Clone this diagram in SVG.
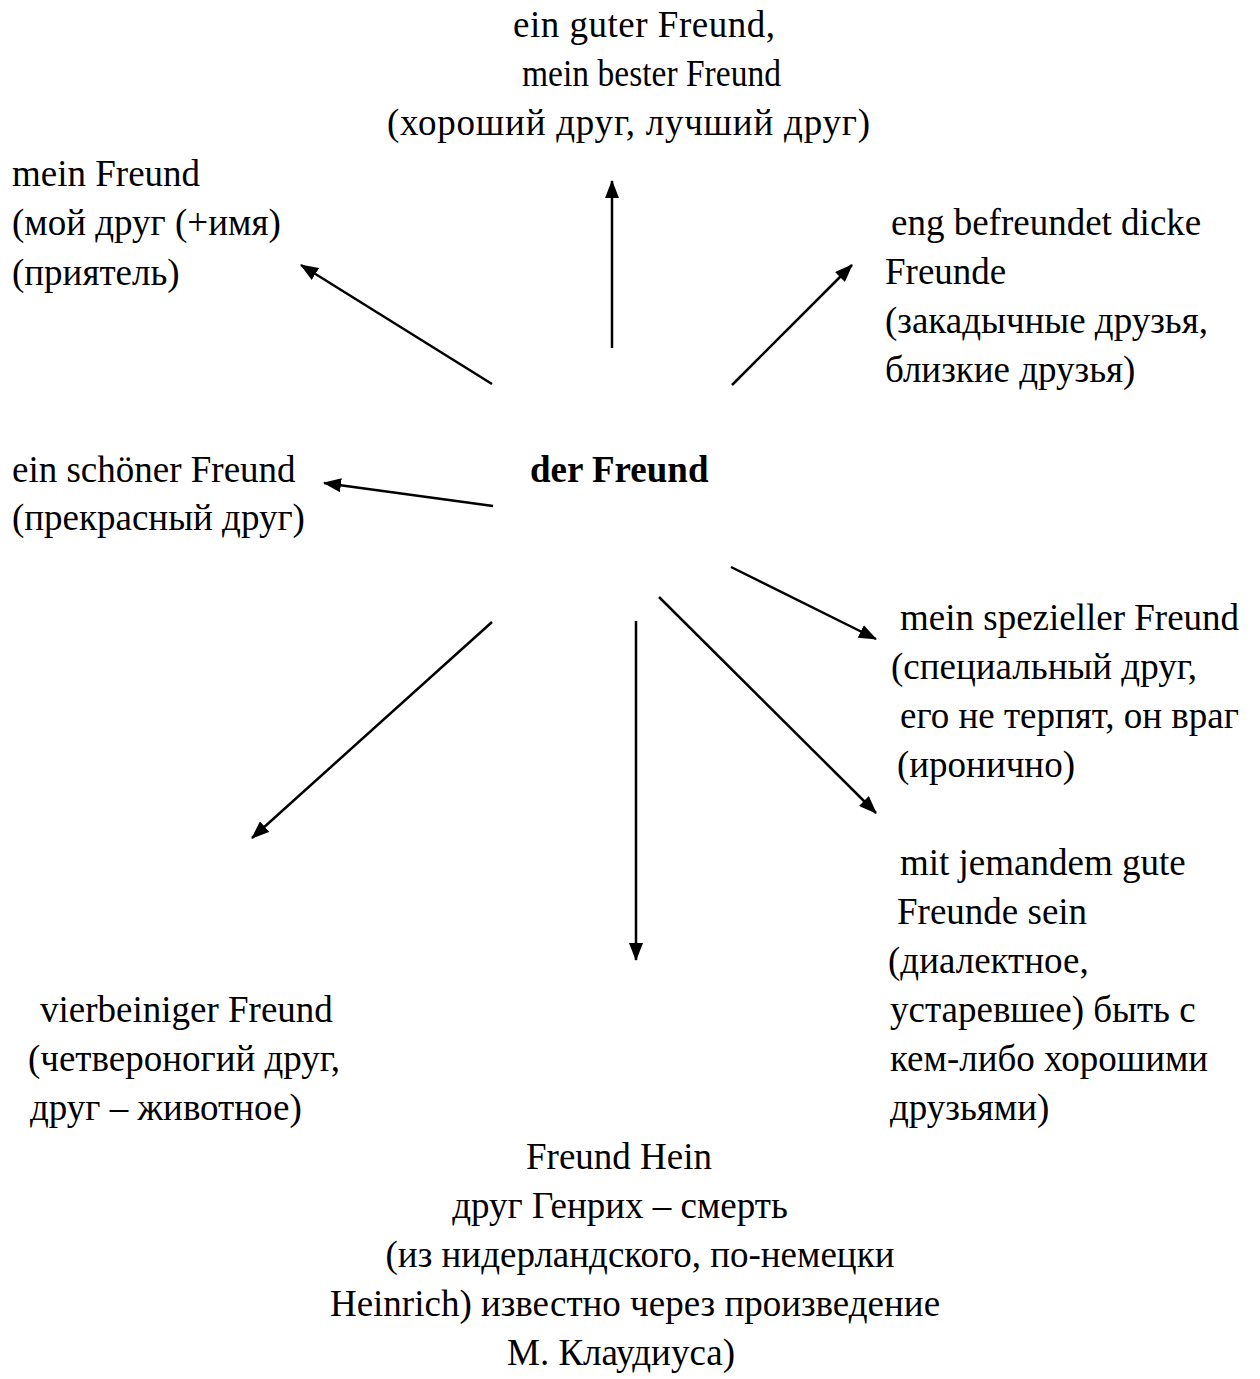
<svg xmlns="http://www.w3.org/2000/svg" width="1260" height="1379" viewBox="0 0 1260 1379">
<style>
text{font-family:"Liberation Serif","Times New Roman",serif;font-size:37px;fill:#000}
.b{font-weight:bold}
.m{text-anchor:middle}
.c line{stroke:#000;stroke-width:2.5;marker-end:url(#ah)}
</style>
<defs>
<marker id="ah" markerUnits="userSpaceOnUse" markerWidth="18" markerHeight="14" refX="17" refY="7" orient="auto">
<path d="M0,0 L18,7 L0,14 z" fill="#000"/>
</marker>
</defs>
<rect width="1260" height="1379" fill="#fff"/>
<g id="connectors" class="c">
<line x1="492" y1="384" x2="301" y2="265"/>
<line x1="612" y1="348" x2="612" y2="181"/>
<line x1="732" y1="385" x2="852" y2="265"/>
<line x1="493" y1="506" x2="324" y2="483"/>
<line x1="731" y1="567" x2="876" y2="639"/>
<line x1="659" y1="597" x2="876" y2="813"/>
<line x1="492" y1="622" x2="252" y2="838"/>
<line x1="636" y1="621" x2="636" y2="960"/>
</g>
<g id="center"><text class="b" x="530" y="482">der Freund</text></g>
<g id="n-top">
<text x="513" y="37" textLength="262" lengthAdjust="spacing">ein guter Freund,</text>
<text x="522" y="86" textLength="259" lengthAdjust="spacingAndGlyphs">mein bester Freund</text>
<text x="387" y="135" textLength="483" lengthAdjust="spacing">(хороший друг, лучший друг)</text>
</g>
<g id="n-topleft">
<text x="12" y="186">mein Freund</text>
<text x="12" y="235">(мой друг (+имя)</text>
<text x="12" y="285">(приятель)</text>
</g>
<g id="n-topright">
<text x="891" y="235">eng befreundet dicke</text>
<text x="885" y="284">Freunde</text>
<text x="885" y="333">(закадычные друзья,</text>
<text x="885" y="382">близкие друзья)</text>
</g>
<g id="n-left">
<text x="12" y="482">ein schöner Freund</text>
<text x="12" y="530">(прекрасный друг)</text>
</g>
<g id="n-right">
<text x="900" y="630">mein spezieller Freund</text>
<text x="891" y="679">(специальный друг,</text>
<text x="900" y="728">его не терпят, он враг</text>
<text x="897" y="777">(иронично)</text>
</g>
<g id="n-bottomright">
<text x="900" y="875">mit jemandem gute</text>
<text x="897" y="924">Freunde sein</text>
<text x="888" y="973">(диалектное,</text>
<text x="890" y="1022">устаревшее) быть с</text>
<text x="890" y="1071">кем-либо хорошими</text>
<text x="890" y="1120">друзьями)</text>
</g>
<g id="n-bottomleft">
<text x="40" y="1022">vierbeiniger Freund</text>
<text x="28" y="1071">(четвероногий друг,</text>
<text x="30" y="1120">друг – животное)</text>
</g>
<g id="n-bottom">
<text class="m" x="619" y="1169">Freund Hein</text>
<text class="m" x="620" y="1218">друг Генрих – смерть</text>
<text class="m" x="640" y="1267">(из нидерландского, по-немецки</text>
<text class="m" x="635" y="1316">Heinrich) известно через произведение</text>
<text class="m" x="621" y="1365">М. Клаудиуса)</text>
</g>
</svg>
